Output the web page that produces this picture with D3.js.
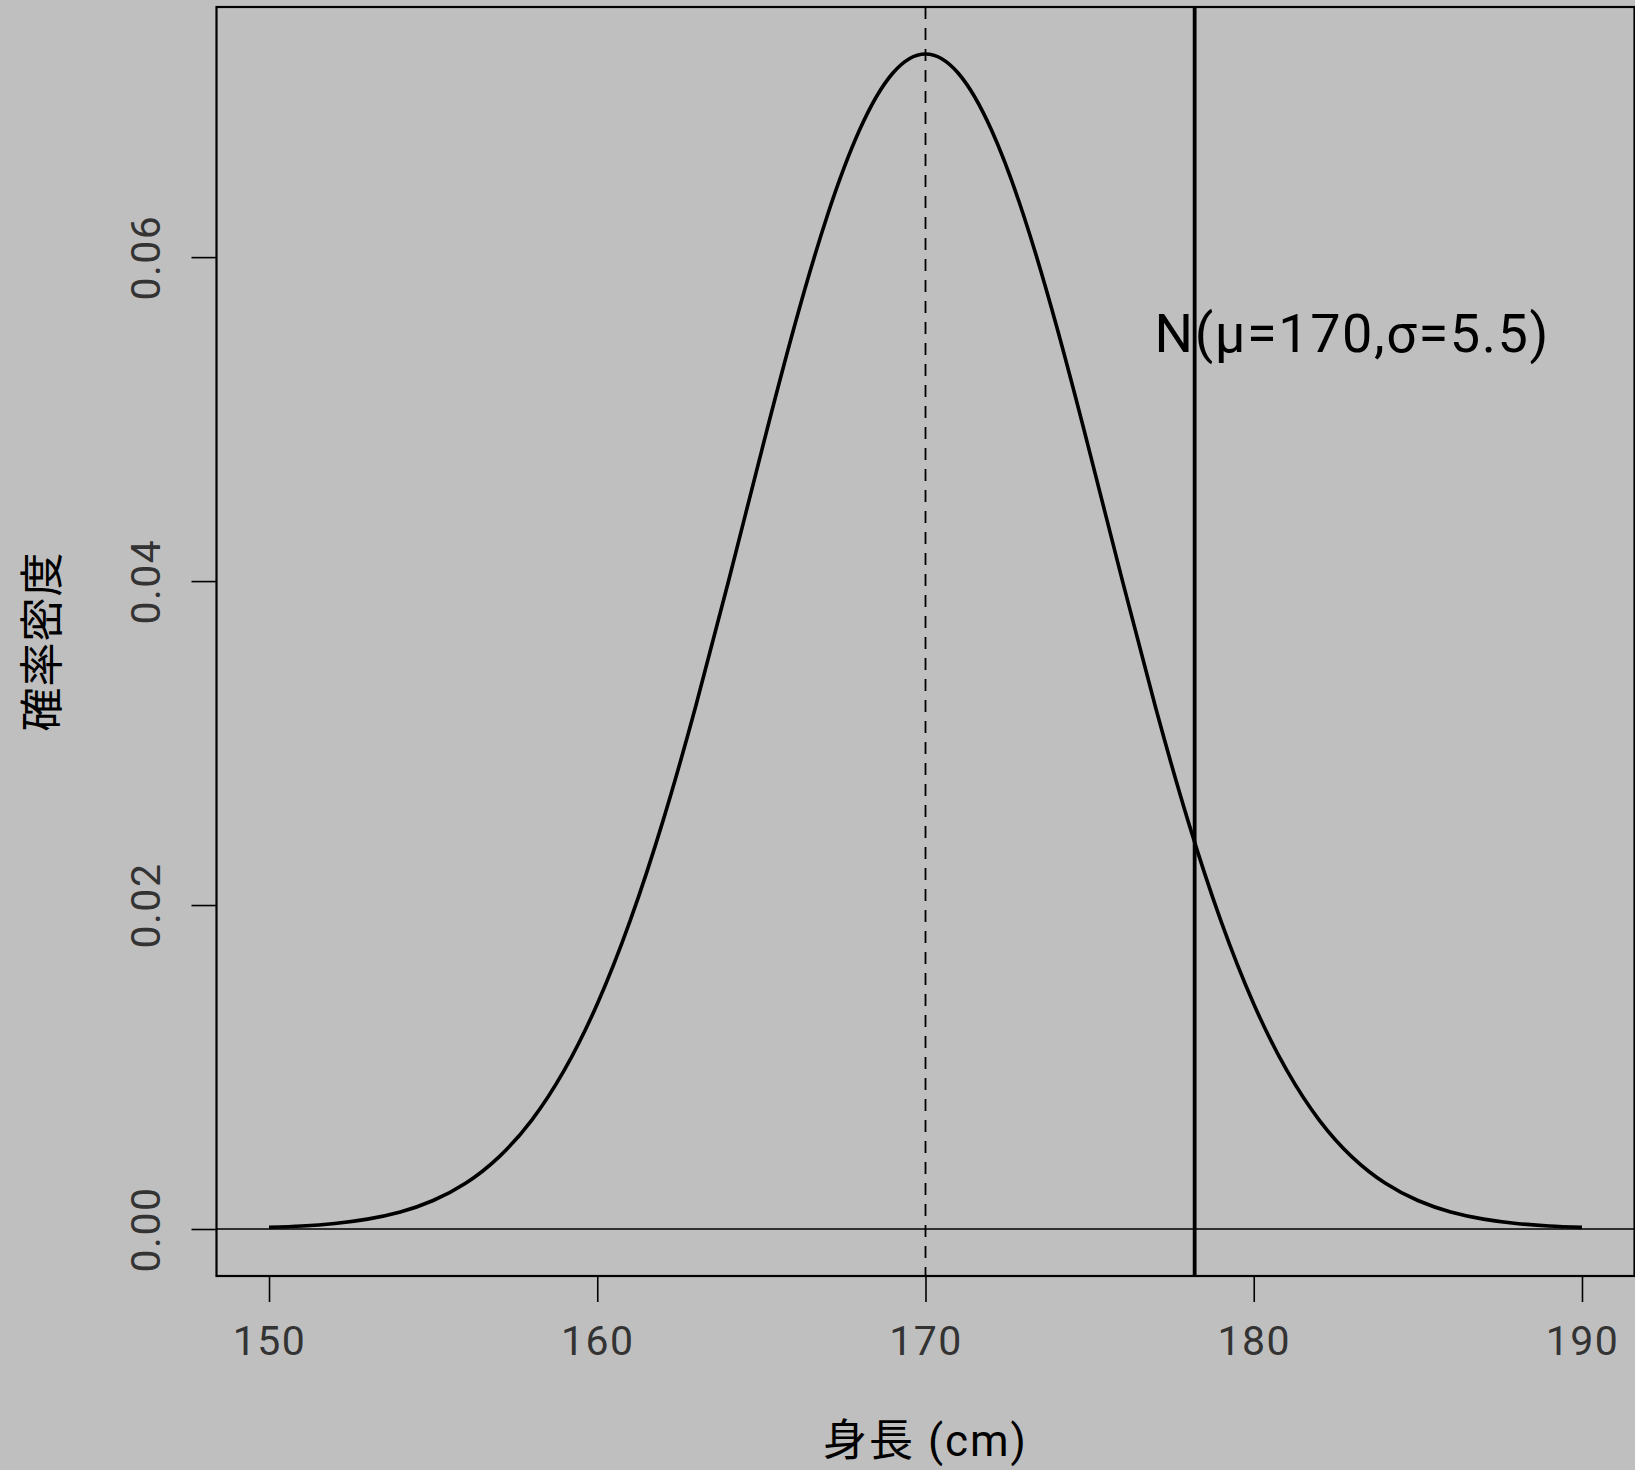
<!DOCTYPE html>
<html><head><meta charset="utf-8">
<script src="https://cdn.jsdelivr.net/npm/d3@7"></script>
<style>
html,body{margin:0;padding:0;background:#bfbfbf;}
svg{display:block;}
text{font-family:Roboto,"Noto Sans CJK JP",sans-serif;}
</style></head>
<body>
<script>
// Data (height in cm vs. probability density)
const heights = [150,151,152,153,154,155,156,157,158,159,160,161,162,163,164,165,166,167,168,169,170,
                 171,172,173,174,175,176,177,178,179,180,181,182,183,184,185,186,187,188,189,190];
const densities = [0.0000976,0.000186,0.000343,0.000611,0.00105,0.00176,0.00284,0.00444,0.00671,0.00982,0.01389,
                   0.01902,0.02518,0.03227,0.04001,0.04798,0.05568,0.06251,0.06789,0.07135,0.07254,
                   0.07135,0.06789,0.06251,0.05568,0.04798,0.04001,0.03227,0.02518,0.01902,0.01389,
                   0.00982,0.00671,0.00444,0.00284,0.00176,0.00105,0.000611,0.000343,0.000186,0.0000976];
const meanHeight = [170];
const cutoff = [178.2];
const xTicks = [150,160,170,180,190];
const yTicks = [0.00,0.02,0.04,0.06];
const yTickLabels = ["0.00","0.02","0.04","0.06"];
const annotation = {x:183, y:0.0553, label:"N(μ=170,σ=5.5)"};
const xTitle = "身長 (cm)";
const yTitle = "確率密度";

const W = 1635, H = 1470;
const box = {left:216.5, right:1634.5, top:7, bottom:1276};

const xmin = d3.min(heights), xmax = d3.max(heights);
const xe = 0.04*(xmax-xmin);
const x = d3.scaleLinear().domain([xmin-xe, xmax+xe]).range([box.left, box.right]);
const ymax = d3.max(densities);
const ye = 0.04*ymax;
const y = d3.scaleLinear().domain([-ye, ymax+ye]).range([box.bottom, box.top]);

const svg = d3.select("body").append("svg").attr("width",W).attr("height",H);
svg.append("rect").attr("width",W).attr("height",H).attr("fill","#bfbfbf");

// horizontal line at 0
svg.append("line").attr("x1",box.left).attr("x2",box.right)
  .attr("y1",y(0)).attr("y2",y(0)).attr("stroke","#000").attr("stroke-width",1.6);

// dashed mean line
svg.selectAll(".mean").data(meanHeight).enter().append("line")
  .attr("x1",d=>x(d)).attr("x2",d=>x(d)).attr("y1",box.top).attr("y2",box.bottom)
  .attr("stroke","#000").attr("stroke-width",1.8).attr("stroke-dasharray","12,9");

// density curve
const line = d3.line().x((d,i)=>x(heights[i])).y(d=>y(d)).curve(d3.curveNatural);
svg.append("path").datum(densities).attr("d",line)
  .attr("fill","none").attr("stroke","#000").attr("stroke-width",3.6);

// solid cutoff line
svg.selectAll(".cut").data(cutoff).enter().append("line")
  .attr("x1",d=>x(d)).attr("x2",d=>x(d)).attr("y1",box.top).attr("y2",box.bottom)
  .attr("stroke","#000").attr("stroke-width",3.8);

// box
svg.append("rect").attr("x",box.left).attr("y",box.top)
  .attr("width",box.right-box.left).attr("height",box.bottom-box.top)
  .attr("fill","none").attr("stroke","#000").attr("stroke-width",2.2);

const numFont = 'Roboto,"Noto Sans CJK JP",sans-serif';

// x axis
const xa = svg.append("g").attr("transform",`translate(0,${box.bottom})`)
  .call(d3.axisBottom(x).tickValues(xTicks).tickSize(26).tickPadding(0).tickFormat(d3.format("d")));
xa.select(".domain").remove();
xa.selectAll(".tick line").attr("stroke","#000").attr("stroke-width",1.6);
xa.selectAll(".tick text").attr("y",65).attr("dy",null).attr("dominant-baseline","central")
  .attr("font-size",41).attr("letter-spacing",1.5).attr("fill","#333").attr("font-family",numFont);

// y axis
const ya = svg.append("g").attr("transform",`translate(${box.left},0)`)
  .call(d3.axisLeft(y).tickValues(yTicks).tickSize(25).tickFormat((d,i)=>yTickLabels[i]));
ya.select(".domain").remove();
ya.selectAll(".tick line").attr("stroke","#000").attr("stroke-width",1.6);
ya.selectAll(".tick text").attr("x",null).attr("dy",null)
  .attr("transform","translate(-71,0) rotate(-90)").attr("text-anchor","middle")
  .attr("dominant-baseline","central").attr("font-size",41).attr("letter-spacing",1.5).attr("fill","#333")
  .attr("font-family",numFont);

// annotation
svg.append("text").attr("x",x(annotation.x)).attr("y",y(annotation.y))
  .attr("text-anchor","middle").attr("dominant-baseline","central")
  .attr("font-size",54).attr("letter-spacing",1.6).attr("fill","#000").attr("font-family",numFont).text(annotation.label);

// titles
svg.append("text").attr("x",(box.left+box.right)/2).attr("y",1441)
  .attr("text-anchor","middle").attr("dominant-baseline","central")
  .attr("font-size",44).attr("letter-spacing",2).attr("fill","#000").attr("font-family",numFont).text(xTitle);
svg.append("text").attr("transform",`translate(43,${(box.top+box.bottom)/2}) rotate(-90)`)
  .attr("text-anchor","middle").attr("dominant-baseline","central")
  .attr("font-size",44).attr("letter-spacing",1).attr("fill","#000").attr("font-family",numFont).text(yTitle);
</script>
</body></html>
